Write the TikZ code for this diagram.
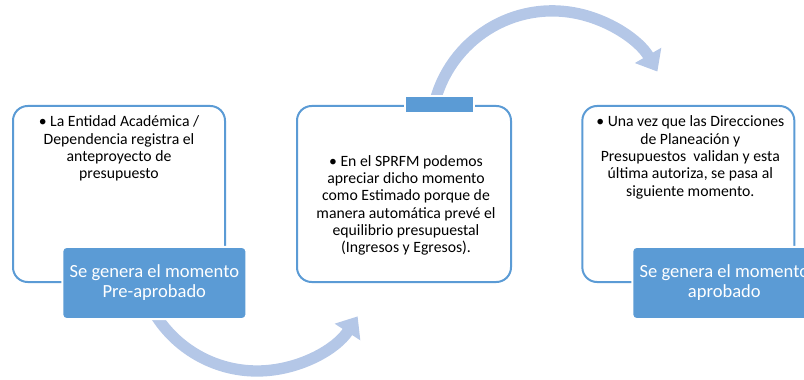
\documentclass[tikz,border=0pt]{standalone}
\usepackage{fontspec}
\setmainfont{Carlito}
\usepackage{xcolor}
\usetikzlibrary{positioning,arrows.meta}
\definecolor{stepblue}{RGB}{91,155,213}
\definecolor{arcblue}{RGB}{180,199,231}

\begin{document}
\begin{tikzpicture}[stage box/.style={draw=stepblue, line width=1.5pt, rounded corners=11pt, fill=white, minimum width=159pt, minimum height=132pt},
    moment box/.style={draw=white, line width=1.5pt, fill=stepblue, rounded corners=3pt, minimum width=138pt, minimum height=54pt, text=white, align=center, font=\fontsize{13.9}{15}\selectfont},
    note/.style={align=center, inner sep=0pt, font=\fontsize{11.8}{13}\selectfont},
    flow arrow/.style={draw=arcblue, line width=8.5pt, -{Triangle[width=22pt,length=14pt]}}]
    \useasboundingbox (0,0) rectangle (603pt,284.25pt);
    \clip (0,0) rectangle (603pt,284.25pt);

    % the three stages
    \node[stage box] (entidad) at (89.25pt,138.75pt) {};
    \node[stage box, minimum width=160.5pt, right=52.5pt of entidad] (sprfm) {};
    \node[stage box, right=52pt of sprfm] (planeacion) {};

    % curved arrows between stages
    \coordinate (bajo) at (192.75pt,96pt);
    \coordinate (alto) at (413.25pt,185.25pt);
    \draw[flow arrow] ([shift={(212:90pt)}]bajo) arc[start angle=212, end angle=327, radius=90pt];
    \draw[flow arrow] ([shift={(170:90pt)}]alto) arc[start angle=170, end angle=30, radius=91pt];

    \node[moment box, anchor=east] (preaprobado) at ([xshift=16pt]entidad.south east) {Se genera el momento\\Pre-aprobado};
    \node[moment box, anchor=east] (aprobado) at ([xshift=16.5pt]planeacion.south east) {Se genera el momento\\aprobado};
    \node[draw=white, line width=1.5pt, fill=stepblue, inner sep=0pt, minimum width=51.75pt, minimum height=12.75pt] (marca) at ([xshift=26.6pt]sprfm.north) {};

    % texts
    \node[note, below=8pt of entidad.north] (textoentidad) {\textbullet\ La Entidad Académica /\\Dependencia registra el\\anteproyecto de\\presupuesto};
    \node[note] (textosprfm) at ([xshift=1.5pt,yshift=-8.5pt]sprfm.center) {\textbullet\ En el SPRFM podemos\\apreciar dicho momento\\como Estimado porque de\\manera automática prevé el\\equilibrio presupuestal\\(Ingresos y Egresos).};
    \node[note, below=8pt of planeacion.north, xshift=1.5pt] (textoplaneacion) {\textbullet\ Una vez que las Direcciones\\de Planeación y\\Presupuestos\ \ validan y esta\\última autoriza, se pasa al\\siguiente momento.};
\end{tikzpicture}
\end{document}
